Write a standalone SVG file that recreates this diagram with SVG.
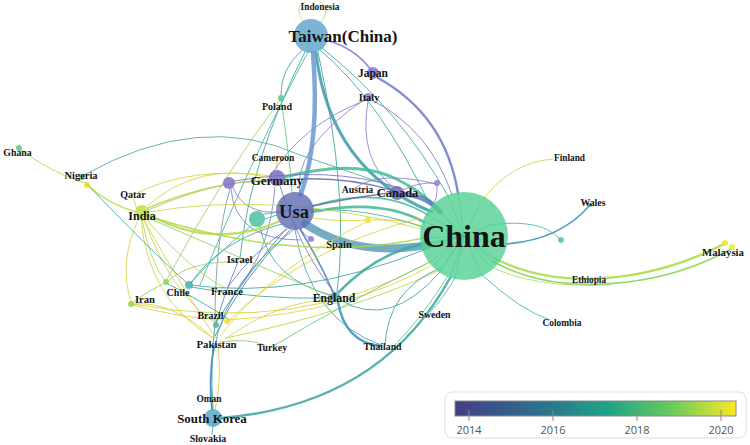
<svg xmlns="http://www.w3.org/2000/svg" width="750" height="445" viewBox="0 0 750 445">
<defs>
<linearGradient id="vir" x1="0" y1="0" x2="1" y2="0">
<stop offset="0" stop-color="#433e85"/>
<stop offset="0.3" stop-color="#2d708e"/>
<stop offset="0.55" stop-color="#20a386"/>
<stop offset="0.78" stop-color="#6ccd5a"/>
<stop offset="1" stop-color="#fde725"/>
</linearGradient>
<style>
.e{fill:none;stroke-linecap:round;opacity:0.85}
.w1{stroke-width:1}
.w2{stroke-width:1.6}
.w3{stroke-width:2.4}
.sp{stroke-width:1;opacity:0.6}
.lbl{font-family:"Liberation Serif","Times New Roman",serif;font-weight:bold;fill:#151515;text-anchor:middle}
.n{opacity:0.8}
.tick{font-family:"Open Sans","Noto Sans",sans-serif;font-size:11px;fill:#555;text-anchor:middle}
</style>
</defs>
<rect width="750" height="445" fill="#ffffff"/>
<g id="connectors">
<!-- Taiwan -->
<path class="e w1" stroke="#d6d43a" d="M304,22 C296,12 298,4 305,2"/>
<path class="e w1" stroke="#d6d43a" d="M321,22 C329,12 326,4 320,2"/>
<path class="e w1" stroke="#3aa59a" d="M302,50 Q280,70 281,95"/>
<path class="e w1" stroke="#3aa59a" d="M305,52 Q250,160 240,258"/>
<path class="e w1" stroke="#45b49a" d="M308,52 Q255,150 200,285"/>
<path class="e w1" stroke="#3aa59a" d="M318,52 Q350,200 337,292"/>
<path class="e w2" stroke="#7a70cc" d="M326,40 Q355,48 371,70"/>
<path class="e w1" stroke="#3aa59a" d="M322,48 Q400,110 448,196"/>
<path class="e w1" stroke="#3aa59a" d="M320,50 Q380,100 430,205"/>
<path class="e" stroke="#3d9aa8" stroke-width="3" d="M316,53 Q330,170 432,212"/>
<path class="e" stroke="#6b98d2" stroke-width="4.5" d="M313,53 Q320,140 301,194"/>
<!-- Japan / Italy -->
<path class="e" stroke="#6c78c8" stroke-width="2.4" d="M378,78 Q445,115 458,193"/>
<path class="e w1" stroke="#7c78cc" d="M372,100 Q430,130 452,195"/>
<path class="e w1" stroke="#8a7ed0" d="M366,100 Q300,125 268,180"/>
<path class="e w1" stroke="#8a7ed0" d="M368,101 Q358,160 394,188"/>
<path class="e w1" stroke="#8a7ed0" d="M365,99 Q290,150 300,196"/>
<!-- Poland -->
<path class="e w1" stroke="#5ccc7a" d="M281,100 Q290,160 292,192"/>
<path class="e w1" stroke="#9cd070" d="M280,100 Q220,180 166,281"/>
<!-- Cameroon -->
<path class="e w1" stroke="#d0cc40" d="M276,160 Q278,170 277,175"/>
<!-- Germany -->
<path class="e" stroke="#3dbf92" stroke-width="3" d="M285,177 Q350,160 390,176 Q420,190 432,204"/>
<path class="e w2" stroke="#6a68b0" d="M284,180 Q340,175 392,190"/>
<path class="e w1" stroke="#8a7ed0" d="M270,182 Q250,181 235,183"/>
<path class="e w1" stroke="#8a7ed0" d="M275,187 Q270,250 240,285"/>
<path class="e w1" stroke="#7a70c0" d="M280,186 Q300,250 334,292"/>
<!-- purple unlabeled node -->
<path class="e w1" stroke="#8a7ed0" d="M233,188 Q245,215 280,212"/>
<path class="e w1" stroke="#8a7ed0" d="M231,189 Q235,240 300,240"/>
<path class="e w1" stroke="#7a70c0" d="M234,181 Q330,165 400,188"/>
<path class="e w1" stroke="#6a9ab0" d="M230,189 Q215,240 215,322"/>
<!-- Usa -->
<path class="e" stroke="#5e9cbc" stroke-width="8" d="M305,224 C345,250 385,252 428,245"/>
<path class="e" stroke="#45b790" stroke-width="2.6" d="M312,212 Q380,198 424,222"/>
<path class="e w2" stroke="#3dbf92" d="M312,206 Q380,185 428,215"/>
<path class="e w2" stroke="#6a68b0" d="M313,206 Q360,196 391,193"/>
<path class="e" stroke="#5a7cc0" stroke-width="5" d="M403,194 Q428,196 440,212"/>
<path class="e w1" stroke="#8a7ed0" d="M402,190 Q420,182 434,183"/>
<path class="e w1" stroke="#8a7ed0" d="M437,185 Q438,200 432,205"/>
<path class="e w1" stroke="#8a7ed0" d="M436,184 Q380,170 355,188"/>
<path class="e w1" stroke="#d8d030" d="M313,218 Q340,222 366,220"/>
<path class="e w1" stroke="#d8d030" d="M372,220 Q400,218 422,226"/>
<path class="e w2" stroke="#4a7ab8" d="M300,229 Q320,262 333,292"/>
<path class="e w1" stroke="#8a7ed0" d="M300,228 Q305,236 310,238"/>
<path class="e w1" stroke="#3fb0a0" d="M277,215 Q268,218 265,219"/>
<path class="e w1" stroke="#4a7ab8" d="M286,229 Q250,270 216,322"/>
<path class="e w1" stroke="#4a7ab8" d="M290,230 Q240,280 215,336"/>
<path class="e w1" stroke="#5a82c0" d="M287,229 Q250,255 228,287"/>
<path class="e w1" stroke="#3aa0a8" d="M293,230 Q200,300 212,410"/>
<path class="e w1" stroke="#4aa0b0" d="M295,230 Q310,320 381,345"/>
<path class="e w1" stroke="#3aa59a" d="M282,224 Q220,240 190,284"/>
<!-- green unlabeled -->
<path class="e w1" stroke="#3fb0a0" d="M252,225 Q210,260 190,284"/>
<path class="e w1" stroke="#3fb0a0" d="M260,227 Q270,280 334,296"/>
<path class="e w1" stroke="#3fb0a0" d="M264,214 Q350,200 425,228"/>
<!-- India -->
<path class="e w3" stroke="#b8d84a" d="M148,214 Q210,250 278,222"/>
<path class="e w2" stroke="#b0dc40" d="M148,208 Q210,182 270,180"/>
<path class="e w1" stroke="#c0c080" d="M148,210 Q190,192 224,185"/>
<path class="e w1" stroke="#d8d040" d="M147,206 Q200,160 270,178"/>
<path class="e w2" stroke="#a8d848" d="M148,216 Q300,265 424,238"/>
<path class="e w1" stroke="#c8d840" d="M148,212 Q280,190 425,230"/>
<path class="e w2" stroke="#b8dc38" d="M87,185 Q110,205 136,212"/>
<path class="e w1" stroke="#d8d040" d="M134,199 Q135,208 139,210"/>
<path class="e w1" stroke="#d8d040" d="M133,195 Q190,165 272,176"/>
<path class="e w1" stroke="#d8d040" d="M139,218 Q118,262 131,302"/>
<path class="e w1" stroke="#d8d040" d="M141,219 Q148,300 213,338"/>
<path class="e w1" stroke="#d8d040" d="M143,219 Q190,300 216,338"/>
<path class="e w1" stroke="#a8d850" d="M142,219 Q150,262 165,281"/>
<path class="e w1" stroke="#c8d840" d="M144,219 Q170,292 214,322"/>
<path class="e w1" stroke="#8cd060" d="M146,217 Q250,262 330,296"/>
<path class="e w1" stroke="#a8d850" d="M145,218 Q190,270 225,288"/>
<!-- Nigeria / Ghana -->
<path class="e w1" stroke="#b8dc38" d="M20,149 Q50,172 84,183"/>
<path class="e w1" stroke="#4aa8a8" d="M84,175 Q200,110 300,155 Q360,175 395,188"/>
<path class="e w1" stroke="#40a8a0" d="M85,182 Q150,250 188,284"/>
<!-- lower-left cluster -->
<path class="e w1" stroke="#d8d040" d="M132,304 Q172,300 213,338"/>
<path class="e w1" stroke="#90d050" d="M132,303 Q150,290 165,283"/>
<path class="e w1" stroke="#d8d040" d="M133,304 Q300,335 430,262"/>
<path class="e w1" stroke="#d8d040" d="M133,305 Q180,318 224,320"/>
<path class="e w1" stroke="#3aa59a" d="M190,285 Q300,300 424,250"/>
<path class="e w1" stroke="#3aa59a" d="M191,287 Q260,300 330,298"/>
<path class="e w1" stroke="#9cd060" d="M167,282 Q190,260 240,262"/>
<path class="e w1" stroke="#3aa59a" d="M166,283 Q200,300 230,320"/>
<path class="e w1" stroke="#e0d830" d="M220,336 Q270,270 366,222"/>
<path class="e w1" stroke="#d8d040" d="M225,339 Q280,300 331,300"/>
<path class="e w1" stroke="#b8d840" d="M226,338 Q350,312 440,270"/>
<path class="e w1" stroke="#e0d830" d="M228,320 Q350,312 434,264"/>
<path class="e w1" stroke="#80d060" d="M220,342 Q248,338 265,345"/>
<path class="e w1" stroke="#60c878" d="M275,345 Q350,300 430,262"/>
<path class="e w2" stroke="#3e8ab8" d="M214,345 Q208,380 212,410"/>
<path class="e w1" stroke="#d8d040" d="M218,345 Q222,380 215,410"/>
<path class="e w1" stroke="#3aa59a" d="M215,326 Q210,360 213,410"/>
<path class="e w1" stroke="#5a82c0" d="M216,324 Q222,300 238,262"/>
<path class="e w1" stroke="#d8d040" d="M227,322 Q300,250 420,218"/>
<path class="e w1" stroke="#3aa59a" d="M214,422 Q212,430 212,434"/>
<!-- England / Thailand -->
<path class="e w3" stroke="#3e8fb8" d="M338,302 Q345,342 380,346"/>
<path class="e" stroke="#36a8a0" stroke-width="2.6" d="M339,292 Q378,252 424,244"/>
<path class="e w1" stroke="#3aa59a" d="M385,345 Q388,290 440,268"/>
<path class="e w1" stroke="#3aa59a" d="M340,300 Q390,330 440,272"/>
<!-- South Korea -->
<path class="e" stroke="#38a5a0" stroke-width="2.4" d="M221,418 Q380,405 450,278"/>
<!-- China right side -->
<path class="e w1" stroke="#b8dc50" d="M480,203 Q510,162 553,159"/>
<path class="e w2" stroke="#3a8fb0" d="M506,244 Q560,240 590,205"/>
<path class="e w1" stroke="#40c0a0" d="M490,225 Q540,218 559,238"/>
<path class="e w3" stroke="#a6dc40" d="M494,258 C560,292 650,282 724,244"/>
<path class="e w2" stroke="#7ad151" d="M494,262 C560,298 660,288 731,249"/>
<path class="e w1" stroke="#a8e060" d="M490,266 Q530,288 610,285"/>
<path class="e w1" stroke="#40b8a8" d="M482,275 Q520,310 550,320"/>
<path class="e w1" stroke="#40c090" d="M455,278 Q442,300 430,312"/>
<path class="e w1" stroke="#60c890" d="M448,276 Q420,320 395,345"/>
<!-- spokes inside China -->
<path class="e sp" stroke="#3ab888" d="M464,236 L428,245 M464,236 L424,222 M464,236 L428,215 M464,236 L432,204 M464,236 L440,212 M464,236 L458,193 M464,236 L448,196 M464,236 L424,238 M464,236 L430,262 M464,236 L434,264 M464,236 L440,270 M464,236 L450,278 M464,236 L455,278 M464,236 L482,275 M464,236 L490,266 M464,236 L494,258 M464,236 L494,262 M464,236 L506,244 M464,236 L490,225 M464,236 L480,203 M464,236 L424,250 M464,236 L424,244 M464,236 L440,272"/>
</g>
<g id="node-indonesia"><text class="lbl" x="320" y="10" font-size="9.3">Indonesia</text></g>
<g id="node-taiwan"><circle class="n" cx="311" cy="36" r="17" fill="#5aa2c8"/><text class="lbl" x="343" y="42" font-size="17">Taiwan(China)</text></g>
<g id="node-japan"><circle class="n" cx="373" cy="73" r="6" fill="#7a6ecc"/><text class="lbl" x="373" y="77" font-size="11.5">Japan</text></g>
<g id="node-italy"><circle class="n" cx="368" cy="97" r="4" fill="#8878d4"/><text class="lbl" x="369" y="101" font-size="10.3">Italy</text></g>
<g id="node-poland"><circle class="n" cx="281" cy="98" r="3" fill="#45c880"/><text class="lbl" x="277" y="109.5" font-size="10">Poland</text></g>
<g id="node-cameroon"><circle class="n" cx="276" cy="159" r="2" fill="#e0d820"/><text class="lbl" x="273" y="161" font-size="9.5">Cameroon</text></g>
<g id="node-unlabeled-purple"><circle class="n" cx="229" cy="183" r="6" fill="#7468c2"/></g>
<g id="node-germany"><circle class="n" cx="277" cy="178" r="8" fill="#7064ba"/><text class="lbl" x="277" y="185" font-size="13">Germany</text></g>
<g id="node-unlabeled-green"><circle class="n" cx="257" cy="219" r="8" fill="#3fbd9a"/></g>
<g id="node-usa"><circle class="n" cx="295" cy="211" r="19" fill="#5d6cb0"/><text class="lbl" x="294" y="218" font-size="18.6">Usa</text></g>
<g id="node-austria"><text class="lbl" x="357.5" y="193" font-size="9.8">Austria</text></g>
<g id="node-canada"><circle class="n" cx="397" cy="193" r="7" fill="#6460b0"/><text class="lbl" x="397.5" y="197" font-size="12.5">Canada</text></g>
<g id="node-unlabeled-purple2"><circle class="n" cx="437" cy="183" r="3" fill="#8d70d0"/></g>
<g id="node-unlabeled-yellow"><circle class="n" cx="368" cy="220" r="3" fill="#f0dc20"/></g>
<g id="node-unlabeled-purple3"><circle class="n" cx="311" cy="239" r="3" fill="#8d70d0"/></g>
<g id="node-spain"><text class="lbl" x="339" y="247.5" font-size="10.5">Spain</text></g>
<g id="node-china"><circle cx="464" cy="236" r="44" fill="#4fcf90" opacity="0.78"/><text class="lbl" x="464" y="247" font-size="32">China</text></g>
<g id="node-finland"><text class="lbl" x="569.5" y="161" font-size="9.3">Finland</text></g>
<g id="node-wales"><circle class="n" cx="590" cy="205" r="2" fill="#3a8fb0"/><text class="lbl" x="593" y="206" font-size="9.8">Wales</text></g>
<g id="node-unlabeled-teal"><circle class="n" cx="561" cy="240" r="3" fill="#40c0a0"/></g>
<g id="node-malaysia"><circle class="n" cx="725" cy="243" r="3" fill="#e8e82a"/><circle class="n" cx="732" cy="247" r="3" fill="#e8e82a"/><text class="lbl" x="723" y="255.5" font-size="10.8">Malaysia</text></g>
<g id="node-ethiopia"><text class="lbl" x="589" y="283" font-size="9.3">Ethiopia</text></g>
<g id="node-colombia"><text class="lbl" x="562" y="325.5" font-size="9.4">Colombia</text></g>
<g id="node-sweden"><text class="lbl" x="434.5" y="318" font-size="9.8">Sweden</text></g>
<g id="node-ghana"><circle class="n" cx="19" cy="148" r="3" fill="#4cc57b"/><text class="lbl" x="17.5" y="156" font-size="9.8">Ghana</text></g>
<g id="node-nigeria"><circle class="n" cx="82" cy="177" r="3" fill="#46c47a"/><circle class="n" cx="87" cy="185" r="3" fill="#e9dd1a"/><text class="lbl" x="81" y="178.5" font-size="10.5">Nigeria</text></g>
<g id="node-qatar"><text class="lbl" x="133" y="197.5" font-size="10">Qatar</text></g>
<g id="node-india"><circle class="n" cx="142" cy="212" r="7" fill="#b9dc3a"/><text class="lbl" x="142" y="220" font-size="12">India</text></g>
<g id="node-israel"><text class="lbl" x="239.5" y="263" font-size="10.5">Israel</text></g>
<g id="node-chile"><circle class="n" cx="166" cy="282" r="3" fill="#8cd44b"/><circle class="n" cx="189" cy="285" r="4" fill="#3ab0a8"/><text class="lbl" x="178" y="296" font-size="10">Chile</text></g>
<g id="node-iran"><circle class="n" cx="131" cy="304" r="3" fill="#93d040"/><text class="lbl" x="145" y="302.5" font-size="10.6">Iran</text></g>
<g id="node-france"><text class="lbl" x="227" y="295" font-size="10.7">France</text></g>
<g id="node-brazil"><circle class="n" cx="216" cy="325" r="3" fill="#38b888"/><circle class="n" cx="227" cy="321" r="3" fill="#f0e020"/><text class="lbl" x="210.5" y="319" font-size="10">Brazil</text></g>
<g id="node-pakistan"><text class="lbl" x="216.5" y="347.5" font-size="10.8">Pakistan</text></g>
<g id="node-turkey"><text class="lbl" x="272" y="351" font-size="9.8">Turkey</text></g>
<g id="node-england"><circle class="n" cx="335" cy="297" r="5" fill="#3d9db0"/><text class="lbl" x="334" y="302" font-size="11.8">England</text></g>
<g id="node-thailand"><text class="lbl" x="382.5" y="350" font-size="9.8">Thailand</text></g>
<g id="node-oman"><text class="lbl" x="209" y="402" font-size="9.4">Oman</text></g>
<g id="node-southkorea"><circle class="n" cx="213" cy="418" r="9" fill="#4fa3c6"/><text class="lbl" x="212" y="423" font-size="12.9">South Korea</text></g>
<g id="node-slovakia"><text class="lbl" x="208" y="442" font-size="10">Slovakia</text></g>
<g id="legend">
<rect x="445" y="392" width="301" height="46" rx="7" fill="#ffffff" stroke="#dddddd" stroke-width="1"/>
<rect x="455" y="401" width="281" height="15" fill="url(#vir)" stroke="#8a8a8a" stroke-width="1"/>
<g stroke="#888" stroke-width="1">
<line x1="469" y1="410" x2="469" y2="421"/>
<line x1="553" y1="410" x2="553" y2="421"/>
<line x1="637" y1="410" x2="637" y2="421"/>
<line x1="721" y1="410" x2="721" y2="421"/>
</g>
<text class="tick" x="469" y="434">2014</text>
<text class="tick" x="553" y="434">2016</text>
<text class="tick" x="637" y="434">2018</text>
<text class="tick" x="721" y="434">2020</text>
</g>
</svg>
